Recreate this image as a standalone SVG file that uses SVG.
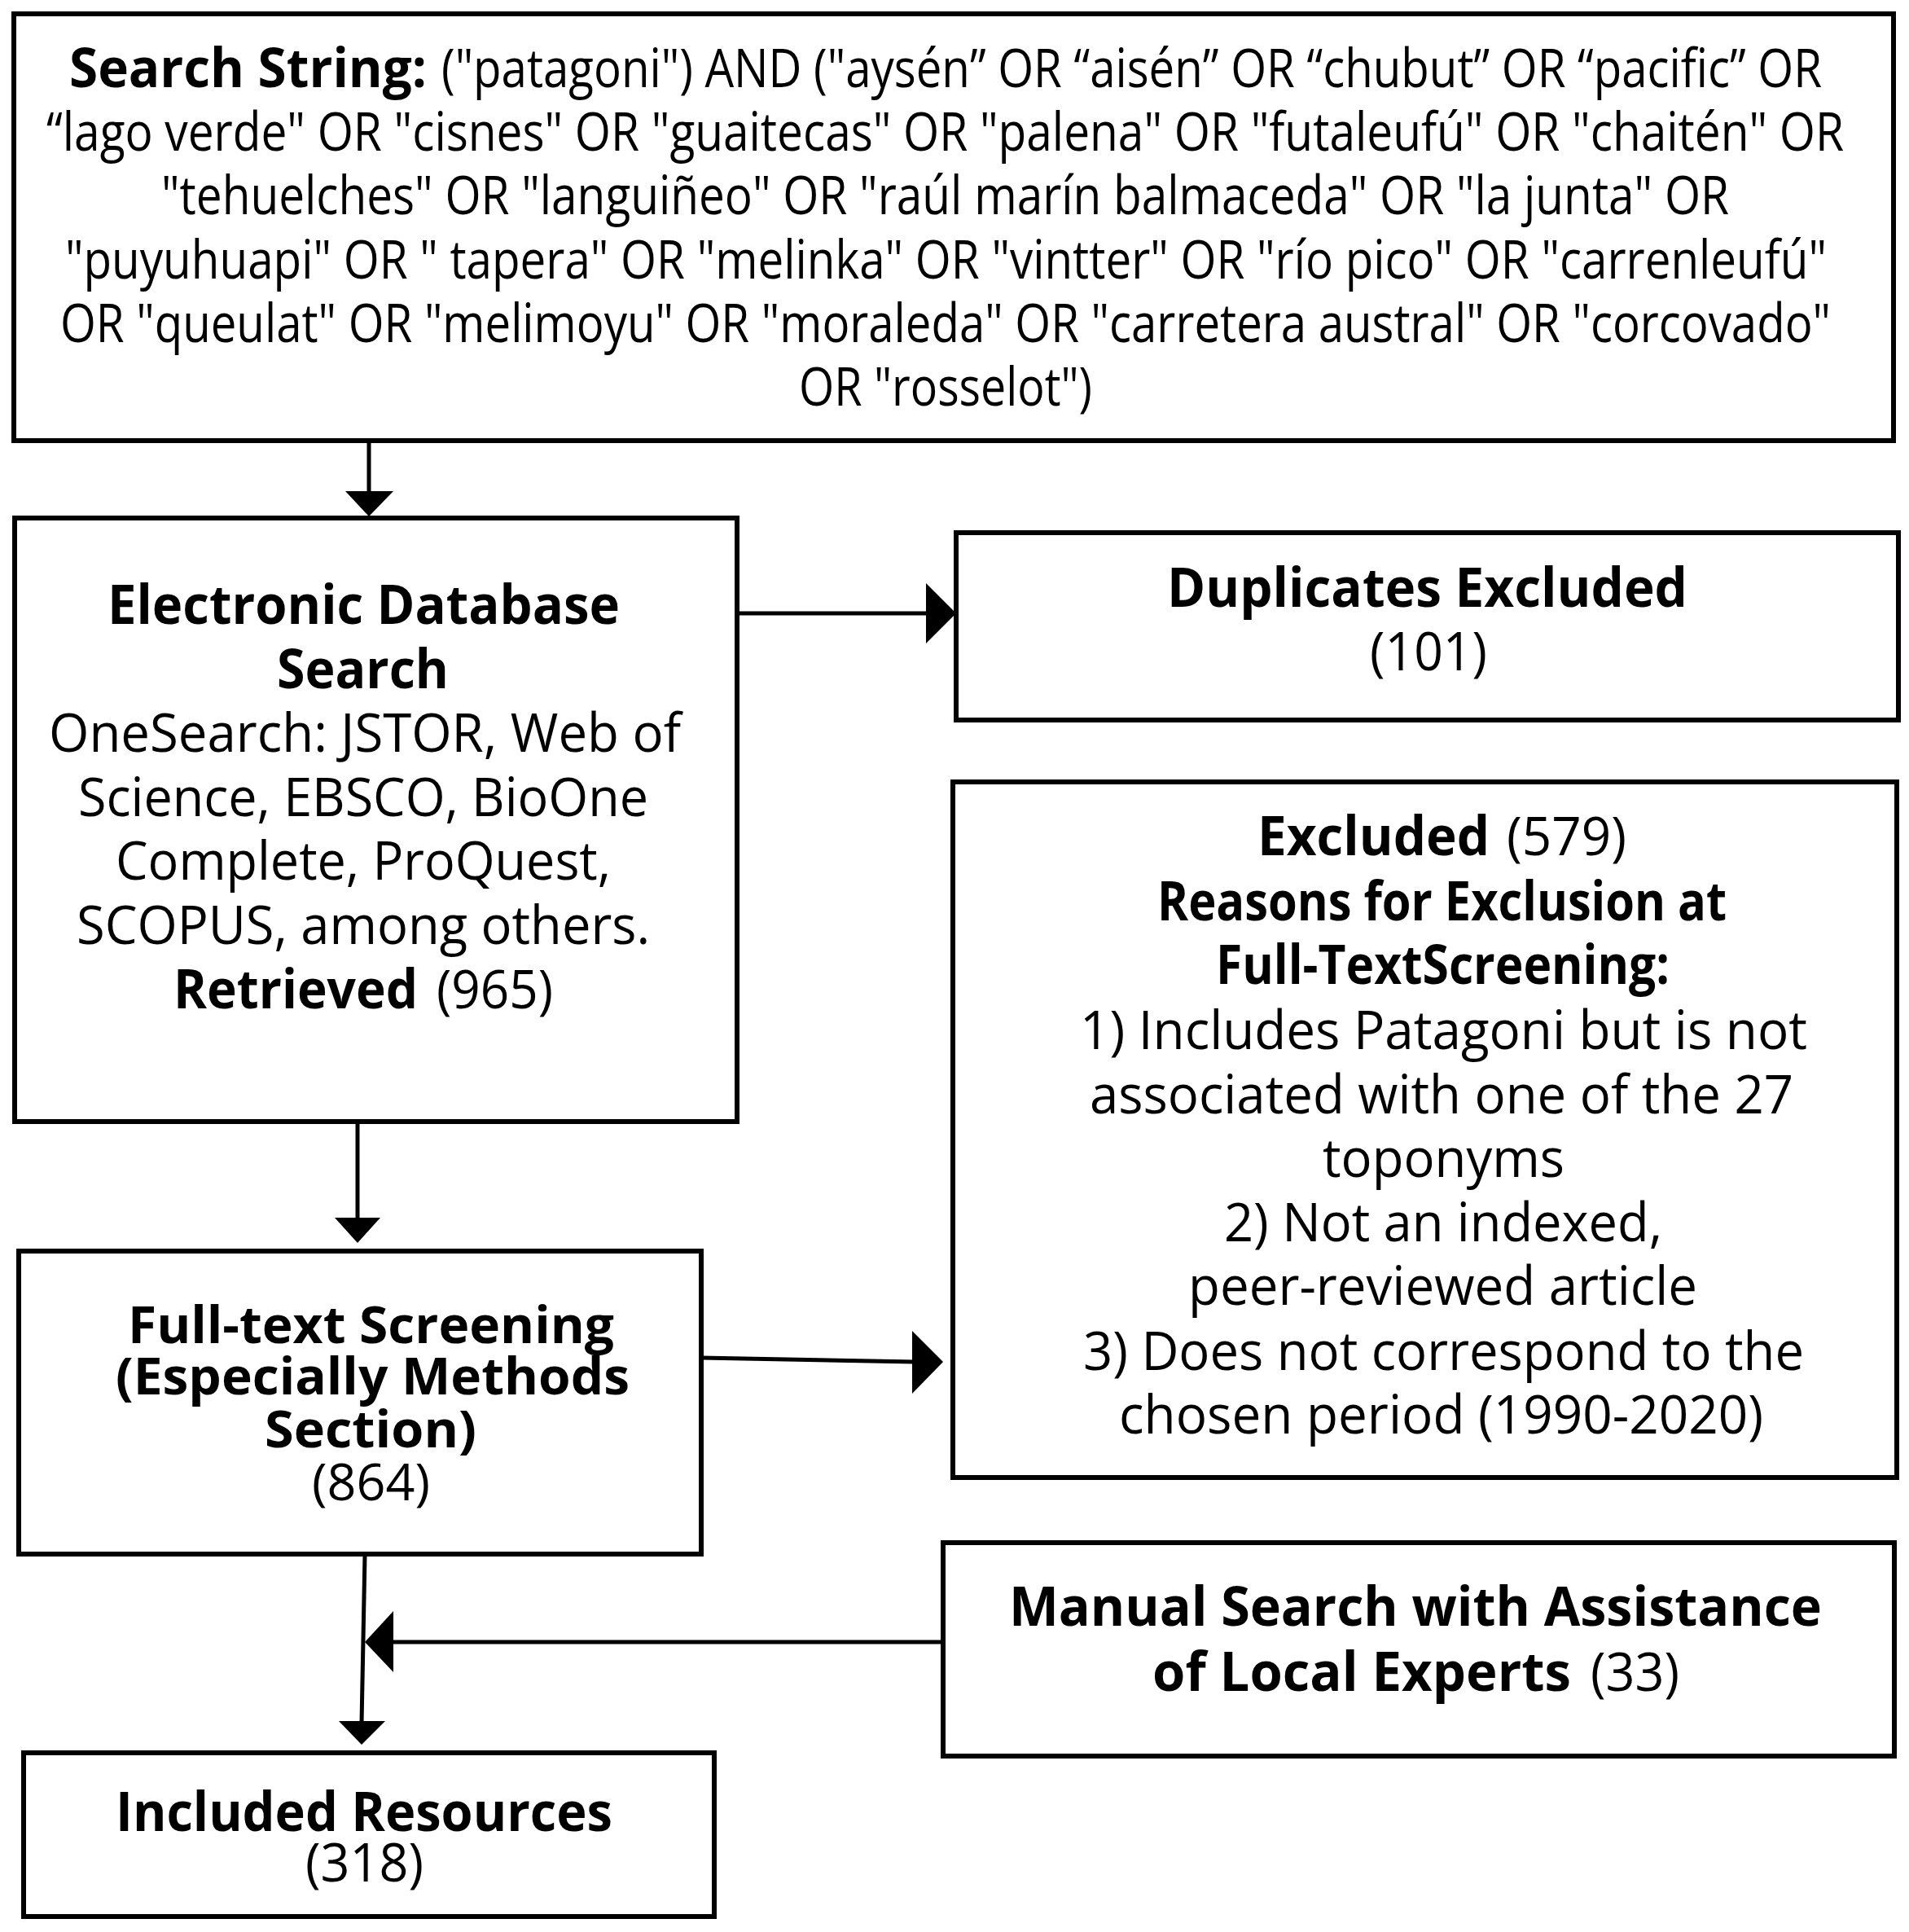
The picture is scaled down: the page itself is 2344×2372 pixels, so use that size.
<svg xmlns="http://www.w3.org/2000/svg" width="2344" height="2372" viewBox="0 0 2344 2372">
<style>
.box{fill:#fff;stroke:#000;stroke-width:6}
.ln{stroke:#000;stroke-width:5;fill:none}
.hd{fill:#000;stroke:none}
text{font-family:"Open Sans","Noto Sans","Liberation Sans",sans-serif;font-size:66px;fill:#000}
.b{font-weight:700}
.s{font-size:62px}
</style>
<rect width="2344" height="2372" fill="#fff"/>
<g id="connectors">
<line class="ln" x1="453" y1="541" x2="453" y2="606"/>
<polygon class="hd" points="424,603 483,603 453,634"/>
<line class="ln" x1="902" y1="753" x2="1140" y2="753"/>
<polygon class="hd" points="1137,716 1137,790 1174,753"/>
<line class="ln" x1="439" y1="1377" x2="439" y2="1498"/>
<polygon class="hd" points="411,1495 467,1495 439,1526"/>
<line class="ln" x1="861" y1="1667" x2="1122" y2="1672"/>
<polygon class="hd" points="1120,1634 1120,1711 1158,1672"/>
<line class="ln" x1="448" y1="1909" x2="444" y2="2116"/>
<polygon class="hd" points="416,2113 473,2113 444,2142"/>
<line class="ln" x1="1158" y1="2016" x2="480" y2="2016"/>
<polygon class="hd" points="483,1978 483,2053 448,2016"/>
</g>
<g id="search-string">
<rect class="box" x="17" y="17" width="2308" height="524"/>
<text class="b" x="85" y="107" textLength="439" lengthAdjust="spacingAndGlyphs">Search String:</text>
<text x="542" y="107" textLength="1695" lengthAdjust="spacingAndGlyphs">("patagoni") AND ("aysén” OR “aisén” OR “chubut” OR “pacific” OR</text>
<text x="57" y="185" textLength="2207" lengthAdjust="spacingAndGlyphs">“lago verde" OR "cisnes" OR "guaitecas" OR "palena" OR "futaleufú" OR "chaitén" OR</text>
<text x="198" y="263" textLength="1925" lengthAdjust="spacingAndGlyphs">"tehuelches" OR "languiñeo" OR "raúl marín balmaceda" OR "la junta" OR</text>
<text x="80" y="342" textLength="2163" lengthAdjust="spacingAndGlyphs">"puyuhuapi" OR " tapera" OR "melinka" OR "vintter" OR "río pico" OR "carrenleufú"</text>
<text x="74" y="420" textLength="2174" lengthAdjust="spacingAndGlyphs">OR "queulat" OR "melimoyu" OR "moraleda" OR "carretera austral" OR "corcovado"</text>
<text x="981" y="498" textLength="360" lengthAdjust="spacingAndGlyphs">OR "rosselot")</text>
</g>
<g id="electronic-search">
<rect class="box" x="18" y="636" width="887" height="741"/>
<text class="b" x="132" y="766" textLength="629" lengthAdjust="spacingAndGlyphs">Electronic Database</text>
<text class="b" x="340" y="845" textLength="211" lengthAdjust="spacingAndGlyphs">Search</text>
<text x="60" y="923" textLength="776" lengthAdjust="spacingAndGlyphs">OneSearch: JSTOR, Web of</text>
<text x="96" y="1002" textLength="700" lengthAdjust="spacingAndGlyphs">Science, EBSCO, BioOne</text>
<text x="142" y="1080" textLength="608" lengthAdjust="spacingAndGlyphs">Complete, ProQuest,</text>
<text x="94" y="1159" textLength="704" lengthAdjust="spacingAndGlyphs">SCOPUS, among others.</text>
<text class="b" x="213" y="1238" textLength="300" lengthAdjust="spacingAndGlyphs">Retrieved</text>
<text x="536" y="1238" textLength="143" lengthAdjust="spacingAndGlyphs">(965)</text>
</g>
<g id="duplicates">
<rect class="box" x="1174" y="654" width="1157" height="230"/>
<text class="b" x="1433" y="745" textLength="639" lengthAdjust="spacingAndGlyphs">Duplicates Excluded</text>
<text x="1682" y="823" textLength="144" lengthAdjust="spacingAndGlyphs">(101)</text>
</g>
<g id="excluded">
<rect class="box" x="1170" y="960" width="1159" height="854"/>
<text class="b" x="1544" y="1050" textLength="285" lengthAdjust="spacingAndGlyphs">Excluded</text>
<text x="1850" y="1050" textLength="147" lengthAdjust="spacingAndGlyphs">(579)</text>
<text class="b" x="1421" y="1130" textLength="699" lengthAdjust="spacingAndGlyphs">Reasons for Exclusion at</text>
<text class="b" x="1493" y="1208" textLength="557" lengthAdjust="spacingAndGlyphs">Full-TextScreening:</text>
<text x="1326" y="1288" textLength="893" lengthAdjust="spacingAndGlyphs">1) Includes Patagoni but is not</text>
<text x="1338" y="1367" textLength="864" lengthAdjust="spacingAndGlyphs">associated with one of the 27</text>
<text x="1624" y="1445" textLength="297" lengthAdjust="spacingAndGlyphs">toponyms</text>
<text x="1503" y="1524" textLength="538" lengthAdjust="spacingAndGlyphs">2) Not an indexed,</text>
<text x="1459" y="1602" textLength="625" lengthAdjust="spacingAndGlyphs">peer-reviewed article</text>
<text x="1330" y="1682" textLength="885" lengthAdjust="spacingAndGlyphs">3) Does not correspond to the</text>
<text x="1374" y="1760" textLength="791" lengthAdjust="spacingAndGlyphs">chosen period (1990-2020)</text>
</g>
<g id="full-text">
<rect class="box" x="23" y="1536" width="838" height="372"/>
<text class="b s" x="157" y="1649" textLength="597" lengthAdjust="spacingAndGlyphs">Full-text Screening</text>
<text class="b s" x="142" y="1712" textLength="631" lengthAdjust="spacingAndGlyphs">(Especially Methods</text>
<text class="b s" x="325" y="1777" textLength="260" lengthAdjust="spacingAndGlyphs">Section)</text>
<text class="s" x="383" y="1842" textLength="145" lengthAdjust="spacingAndGlyphs">(864)</text>
</g>
<g id="manual-search">
<rect class="box" x="1158" y="1894" width="1168" height="262"/>
<text class="b" x="1239" y="1996" textLength="998" lengthAdjust="spacingAndGlyphs">Manual Search with Assistance</text>
<text class="b" x="1415" y="2076" textLength="514" lengthAdjust="spacingAndGlyphs">of Local Experts</text>
<text x="1953" y="2076" textLength="109" lengthAdjust="spacingAndGlyphs">(33)</text>
</g>
<g id="included">
<rect class="box" x="29" y="2152" width="848" height="201"/>
<text class="b" x="142" y="2248" textLength="610" lengthAdjust="spacingAndGlyphs">Included Resources</text>
<text x="375" y="2310" textLength="145" lengthAdjust="spacingAndGlyphs">(318)</text>
</g>
</svg>
